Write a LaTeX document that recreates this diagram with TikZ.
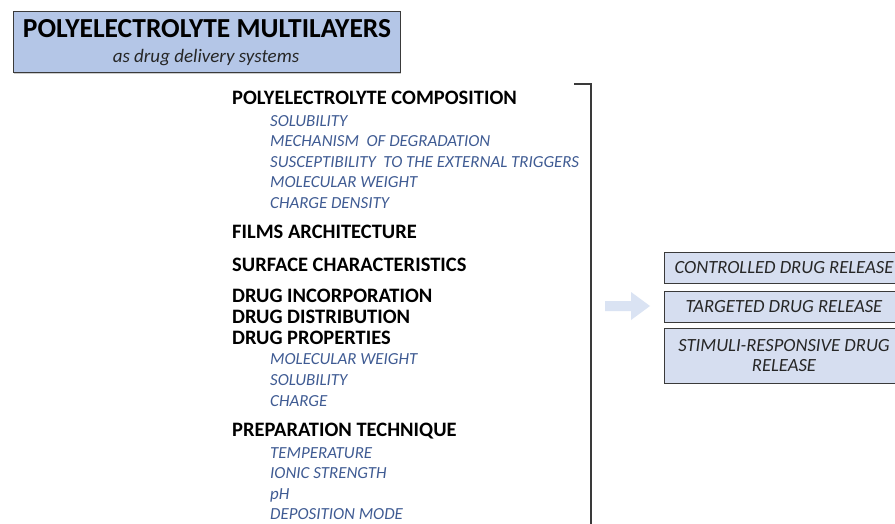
\documentclass[tikz,border=0pt]{standalone}
\usepackage{fontspec}
\setmainfont{Carlito}
\usetikzlibrary{shadows}
\definecolor{titlefill}{HTML}{B4C6E7}
\definecolor{boxfill}{HTML}{D6DEF0}
\definecolor{arrowfill}{HTML}{DAE3F3}
\definecolor{itemblue}{HTML}{3F5B93}
\definecolor{framegray}{HTML}{3A3A3A}
\tikzset{
  heading/.style={anchor=base west, inner sep=0pt, font=\fontsize{20.5}{23}\selectfont\bfseries, text=black},
  subitem/.style={anchor=base west, inner sep=0pt, font=\fontsize{16.9}{19}\selectfont\itshape, text=itemblue},
  outcome/.style={draw=framegray, line width=0.8pt, fill=boxfill},
  outtext/.style={inner sep=0pt, font=\fontsize{18.6}{20.5}\selectfont\itshape, text=black!85, align=center},
}
\begin{document}
\begin{tikzpicture}[x=1pt,y=-1pt]
\clip (0,0) rectangle (895,524);
\fill[white] (0,0) rectangle (895,524);

% title block
\node[draw=framegray, line width=0.9pt, fill=titlefill, minimum width=387pt, minimum height=61pt,
      drop shadow={shadow xshift=1.2pt, shadow yshift=-1.2pt, opacity=0.4}] (title) at (206.5,42.2) {};
\node[anchor=base, inner sep=0pt, font=\fontsize{27.5}{30}\selectfont\bfseries] (titletext) at (207,38) {POLYELECTROLYTE MULTILAYERS};
\node[anchor=base, inner sep=0pt, font=\fontsize{19}{22}\selectfont\itshape, text=black!85] (subtitle) at (206,63) {as drug delivery systems};

% bracket
\coordinate (bt) at (574,84);
\coordinate (bc) at (591,84);
\coordinate (bb) at (591,530);
\draw[framegray, line width=1.1pt] (bt) -- (bc) -- (bb);

% factor list
\node[heading] (h1) at (232,105) {POLYELECTROLYTE COMPOSITION};
\node[subitem] (s11) at (270,126.7) {SOLUBILITY};
\node[subitem] (s12) at (270,146.9) {MECHANISM \ OF DEGRADATION};
\node[subitem] (s13) at (270,167.3) {SUSCEPTIBILITY \ TO THE EXTERNAL TRIGGERS};
\node[subitem] (s14) at (270,187.6) {MOLECULAR WEIGHT};
\node[subitem] (s15) at (270,208.2) {CHARGE DENSITY};
\node[heading] (h2) at (232,239) {FILMS ARCHITECTURE};
\node[heading] (h3) at (232,271) {SURFACE CHARACTERISTICS};
\node[heading] (h4) at (232,302) {DRUG INCORPORATION};
\node[heading] (h5) at (232,323) {DRUG DISTRIBUTION};
\node[heading] (h6) at (232,344) {DRUG PROPERTIES};
\node[subitem] (s61) at (270,364.5) {MOLECULAR WEIGHT};
\node[subitem] (s62) at (270,385.5) {SOLUBILITY};
\node[subitem] (s63) at (270,406.5) {CHARGE};
\node[heading] (h7) at (232,436.7) {PREPARATION TECHNIQUE};
\node[subitem] (s71) at (270,458.3) {TEMPERATURE};
\node[subitem] (s72) at (270,478.3) {IONIC STRENGTH};
\node[subitem] (s73) at (270,499.3) {pH};
\node[subitem] (s74) at (270,519.3) {DEPOSITION MODE};

% block arrow
\fill[arrowfill] (605,301) -- (631,301) -- (631,292) -- (650,306) -- (631,320) -- (631,311) -- (605,311) -- cycle;

% outcomes
\draw[outcome] (664,252) rectangle (905,283);
\node[outtext] (o1) at (784,268) {CONTROLLED DRUG RELEASE};
\draw[outcome] (664,291) rectangle (905,322);
\node[outtext] (o2) at (784,306.5) {TARGETED DRUG RELEASE};
\draw[outcome] (664,328) rectangle (905,383);
\node[outtext] (o3) at (784,355.5) {STIMULI-RESPONSIVE DRUG\\RELEASE};
\end{tikzpicture}
\end{document}
